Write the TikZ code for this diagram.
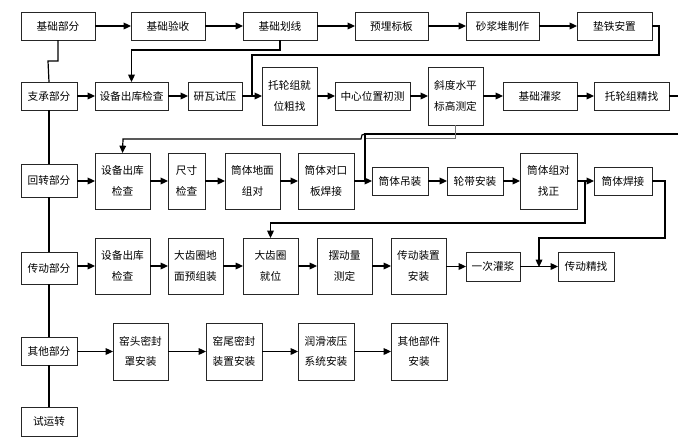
\documentclass[tikz,border=0pt]{standalone}
\usepackage{fontspec}
\newfontfamily\cjk{Noto Sans CJK SC}
\usetikzlibrary{arrows.meta}
\newcommand\flowbox[6]{\node[box, minimum width={(#4-#2)*0.75pt}, minimum height={(#5-#3)*0.75pt}] (#1) at ({(#2+#4)/2},{(#3+#5)/2}) {#6};}
\begin{document}
\begin{tikzpicture}[x=0.75pt,y=-0.75pt,
  box/.style={draw=black!85, line width=0.7pt, fill=white, inner sep=0pt, outer sep=0pt, align=center, font=\cjk\fontsize{8}{15.5}\selectfont},
  conn/.style={line width=0.9pt, draw=black},
  thin conn/.style={line width=0.7pt, draw=black!55},
  arr/.style={conn, -{Triangle[length=5.5pt,width=5pt]}},
]
\useasboundingbox (0,0) rectangle (689,447);
% Row 1
\flowbox{a1}{21}{12}{95}{40}{基础部分}
\flowbox{a2}{131}{12}{205}{40}{基础验收}
\flowbox{a3}{243}{12}{317}{40}{基础划线}
\flowbox{a4}{355}{12}{428}{40}{预埋标板}
\flowbox{a5}{466}{12}{539}{40}{砂浆堆制作}
\flowbox{a6}{577}{12}{652}{40}{垫铁安置}
% Row 2
\flowbox{b0}{21}{82}{77}{110}{支承部分}
\flowbox{b1}{95}{82}{168}{110}{设备出库检查}
\flowbox{b2}{188}{82}{242}{110}{研瓦试压}
\flowbox{b3}{262}{67}{317}{125}{托轮组就\\位粗找}
\flowbox{b4}{335}{82}{410}{110}{中心位置初测}
\flowbox{b5}{428}{67}{483}{125}{斜度水平\\标高测定}
\flowbox{b6}{503}{82}{577}{110}{基础灌浆}
\flowbox{b7}{594}{82}{669}{110}{托轮组精找}
% Row 3
\flowbox{c0}{21}{164}{77}{197}{回转部分}
\flowbox{c1}{95}{153}{150}{209}{设备出库\\检查}
\flowbox{c2}{168}{153}{205}{209}{尺寸\\检查}
\flowbox{c3}{225}{153}{280}{209}{筒体地面\\组对}
\flowbox{c4}{298}{153}{354}{209}{筒体对口\\板焊接}
\flowbox{c5}{372}{167}{428}{195}{筒体吊装}
\flowbox{c6}{447}{167}{503}{195}{轮带安装}
\flowbox{c7}{520}{153}{577}{209}{筒体组对\\找正}
\flowbox{c8}{594}{167}{652}{195}{筒体焊接}
% Row 4
\flowbox{d0}{21}{252}{77}{284}{传动部分}
\flowbox{d1}{95}{238}{150}{294}{设备出库\\检查}
\flowbox{d2}{168}{238}{223}{294}{大齿圈地\\面预组装}
\flowbox{d3}{243}{238}{298}{294}{大齿圈\\就位}
\flowbox{d4}{317}{238}{372}{294}{摆动量\\测定}
\flowbox{d5}{391}{238}{446}{294}{传动装置\\安装}
\flowbox{d6}{466}{252}{520}{281}{一次灌浆}
\flowbox{d7}{558}{252}{614}{281}{传动精找}
% Row 5
\flowbox{e0}{21}{337}{77}{365}{其他部分}
\flowbox{e1}{113}{323}{168}{380}{窑头密封\\罩安装}
\flowbox{e2}{206}{323}{262}{380}{窑尾密封\\装置安装}
\flowbox{e3}{298}{323}{354}{380}{润滑液压\\系统安装}
\flowbox{e4}{391}{323}{447}{380}{其他部件\\安装}
\flowbox{f0}{21}{407}{77}{436}{试运转}

% named free ends
\coordinate (s1) at (678,96);
\coordinate (r1) at (678,134);
\coordinate (j1) at (365,134);
\coordinate (j2) at (585,181);
\coordinate (j3) at (539,267);

% Row 1 arrows
\draw[arr] (a1) -- (a2);
\draw[arr] (a2) -- (a3);
\draw[arr] (a3) -- (a4);
\draw[arr] (a4) -- (a5);
\draw[arr] (a5) -- (a6);
\draw[conn] (a6.east) -- (659,26) -- (659,55) -- (252,55) -- (252,96);
\draw[arr] (a3.south) -- (280,50) -| (b1.north);
\draw[conn] (a1.south) -- (58,61) -- (48,61) -- (b0.north);
% spine
\draw[conn] (b0.south) -- (c0.north);
\draw[conn] (c0.south) -- (d0.north);
\draw[conn] (d0.south) -- (e0.north);
\draw[conn] (e0.south) -- (f0.north);
% Row 2 arrows
\draw[arr] (b0) -- (b1);
\draw[arr] (b1) -- (b2);
\draw[arr] (b2) -- (b3);
\draw[arr] (b3) -- (b4);
\draw[arr] (b4) -- (b5);
\draw[arr] (b5) -- (b6);
\draw[arr] (b6) -- (b7);
\draw[conn] (b7.east) -- (s1);
\draw[conn] (r1) -- (j1) -- (365,181);
\draw[arr] (j1) -- (362,135) -- (361,139) -- (123,139) -- (c1.north);
\draw[thin conn] (b5.south) -- (455.5,138) -- (366,138);
% Row 3 arrows
\draw[arr] (c0.east |- c1.west) -- (c1.west);
\draw[arr] (c1) -- (c2);
\draw[arr] (c2) -- (c3);
\draw[arr] (c3) -- (c4);
\draw[arr] (c4) -- (c5);
\draw[arr] (c5) -- (c6);
\draw[arr] (c6) -- (c7);
\draw[arr] (c7) -- (c8);
\draw[arr] (j2) -- (585,223) -- (270.5,223) -- (d3.north);
\draw[arr] (c8.east) -- (665,181) -- (665,238) -- (539,238) -- (j3);
% Row 4 arrows
\draw[arr] (d0.east |- d1.west) -- (d1.west);
\draw[arr] (d1) -- (d2);
\draw[arr] (d2) -- (d3);
\draw[arr] (d3) -- (d4);
\draw[arr] (d4) -- (d5);
\draw[arr] (d5.east |- d6.west) -- (d6.west);
\draw[arr] (d6) -- (d7);
% Row 5 arrows
\draw[arr] (e0.east |- e1.west) -- (e1.west);
\draw[arr] (e1) -- (e2);
\draw[arr] (e2) -- (e3);
\draw[arr] (e3) -- (e4);
\end{tikzpicture}
\end{document}
